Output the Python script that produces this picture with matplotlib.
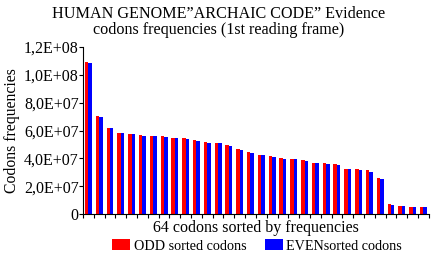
import numpy as np
import matplotlib
matplotlib.use("Agg")
import matplotlib.pyplot as plt

plt.rcParams['font.family'] = 'serif'
plt.rcParams['font.serif'] = ['Liberation Serif', 'Times New Roman', 'DejaVu Serif']

# 64 codons sorted by frequency, split into odd/even ranks (32 pairs)
odd_vals = [1.09e8, 7.05e7, 6.2e7, 5.85e7, 5.75e7, 5.65e7, 5.62e7, 5.57e7,
            5.48e7, 5.43e7, 5.31e7, 5.14e7, 5.12e7, 4.97e7, 4.68e7, 4.48e7,
            4.27e7, 4.18e7, 4.03e7, 3.96e7, 3.88e7, 3.67e7, 3.63e7, 3.58e7,
            3.27e7, 3.22e7, 3.13e7, 2.57e7, 7.0e6, 6.0e6, 5.3e6, 5.1e6]
even_vals = [1.085e8, 7.0e7, 6.15e7, 5.8e7, 5.72e7, 5.63e7, 5.6e7, 5.5e7,
             5.45e7, 5.4e7, 5.25e7, 5.12e7, 5.1e7, 4.9e7, 4.6e7, 4.4e7,
             4.22e7, 4.1e7, 3.98e7, 3.92e7, 3.8e7, 3.65e7, 3.6e7, 3.5e7,
             3.24e7, 3.16e7, 3.0e7, 2.55e7, 6.5e6, 5.8e6, 5.2e6, 4.9e6]
ytick_vals = [0, 2e7, 4e7, 6e7, 8e7, 1e8, 1.2e8]
ytick_labels = ['0', '2,0E+07', '4,0E+07', '6,0E+07', '8,0E+07', '1,0E+08', '1,2E+08']

fig = plt.figure(figsize=(4.38, 2.58), dpi=100)
ax = fig.add_axes([0.1895, 0.1705, 0.7895, 0.6473])

x = np.arange(len(odd_vals))
w = 0.32
ax.bar(x + 0.34, odd_vals, width=w, color='#ff0000', label='ODD sorted codons')
ax.bar(x + 0.66, even_vals, width=w, color='#0000ff', label='EVENsorted codons')

ax.set_xlim(0, len(odd_vals))
ax.set_ylim(0, 1.2e8)
ax.set_xticks(np.arange(len(odd_vals) + 1))
ax.set_xticklabels([])
ax.set_yticks(ytick_vals)
ax.set_yticklabels(ytick_labels, fontsize=11.5)
ax.tick_params(axis='both', direction='out', length=3, width=0.8, pad=0)
for s in ['top', 'right']:
    ax.spines[s].set_visible(False)

# y label placed by hand so it sits where the original has it
fig.text(12 / 438, 0.494, 'Codons frequencies', rotation=90, ha='center', va='center',
         fontsize=11.3)
ax.set_xlabel('64 codons sorted by frequencies', fontsize=11.5, labelpad=1)

fig.text(0.5, 0.975, 'HUMAN GENOME\u201dARCHAIC CODE\u201d Evidence\ncodons frequencies (1st reading frame)',
         ha='center', va='top', fontsize=11.6, linespacing=0.95)

fig.legend(loc='center', bbox_to_anchor=(0.587, 0.047), ncol=2, frameon=False,
           fontsize=10.2, handlelength=1.27, handleheight=0.8, handletextpad=0.28,
           columnspacing=1.27, borderpad=0, borderaxespad=0)

fig.savefig('out.png', dpi=100)
